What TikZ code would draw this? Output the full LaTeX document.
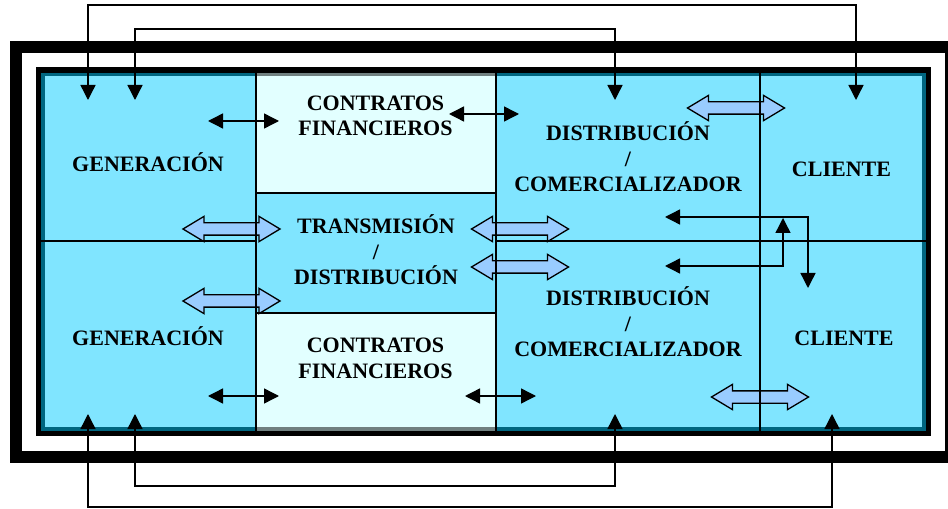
\documentclass[tikz,border=0pt]{standalone}
\usepackage{fontspec}
\setmainfont{Liberation Serif}
\usetikzlibrary{arrows.meta,shapes.arrows}
\definecolor{cellblue}{RGB}{128,229,255}
\definecolor{cellpale}{RGB}{226,255,255}
\definecolor{rimteal}{RGB}{0,102,128}
\definecolor{rimgrey}{RGB}{112,128,128}
\definecolor{fatblue}{RGB}{153,204,255}

\begin{document}
\begin{tikzpicture}[x=1bp, y=-1bp,
	label/.style={align=center, anchor=base, inner sep=0,
		font=\fontsize{22bp}{25.5bp}\selectfont\bfseries},
	fat/.style={double arrow, draw=black, line width=1.3bp, fill=fatblue,
		inner sep=0, text height=11bp, text depth=0pt,
		minimum width=24bp, minimum height=97bp,
		double arrow head extend=6.5bp, double arrow tip angle=62},
	link/.style={line width=1.4bp,
		{Triangle[length=15bp,width=15bp]}-{Triangle[length=15bp,width=15bp]}},
	divider/.style={line width=1.6bp}]
	\useasboundingbox (0,0) rectangle (948,509);
	% cells
	\fill[cellblue] (41,72) rectangle (926,431);
	\fill[cellpale] (256,72) rectangle (496,193);
	\fill[cellpale] (256,313) rectangle (496,431);
	\draw[rimteal, line width=3.5bp] (43,74.5) rectangle (924,429);
	\draw[rimgrey, line width=3.5bp] (256,74.5) -- (496,74.5);
	\draw[rimgrey, line width=3.5bp] (256,429) -- (496,429);
	% wide arrows
	\node[fat] (ga1) at (231.5,229) {};
	\node[fat] (ga2) at (231.5,301) {};
	\node[fat] (ta1) at (520,229) {};
	\node[fat] (ta2) at (520,267) {};
	\node[fat] (ca1) at (736,108) {};
	\node[fat] (ca2) at (760,397) {};
	% dividers
	\draw[divider] (256,70) -- (256,433.5);
	\draw[divider] (496,70) -- (496,433.5);
	\draw[divider] (760,70) -- (760,433.5);
	\draw[divider] (41,241) -- (256,241);
	\draw[divider] (496,241) -- (926,241);
	\draw[divider] (256,193) -- (496,193);
	\draw[divider] (256,313) -- (496,313);
	% frames
	\draw[line width=12bp] (16,47.5) rectangle (951,457.3);
	\draw[line width=5.5bp] (38.5,70) rectangle (928.5,433.5);
	% labels (base = last line)
	\node[label] (gen1)  at (148,171.5) {GENERACIÓN};
	\node[label] (fin1)  at (375.5,136) {CONTRATOS\\FINANCIEROS};
	\node[label] (dist1) at (628,192) {DISTRIBUCIÓN\\/\\COMERCIALIZADOR};
	\node[label] (cli1)  at (841.5,177) {CLIENTE};
	\node[label] (trans) at (376,285) {TRANSMISIÓN\\/\\DISTRIBUCIÓN};
	\node[label] (gen2)  at (148,345.5) {GENERACIÓN};
	\node[label] (fin2)  at (375.5,378.3) {CONTRATOS\\FINANCIEROS};
	\node[label] (dist2) at (628,356.7) {DISTRIBUCIÓN\\/\\COMERCIALIZADOR};
	\node[label] (cli2)  at (844,345.5) {CLIENTE};
	% arrow ends
	\coordinate (gt1) at (88,100);
	\coordinate (gt2) at (135,100);
	\coordinate (dt1) at (615,100);
	\coordinate (ct1) at (856,100);
	\coordinate (gb1) at (88,414);
	\coordinate (gb2) at (135,414);
	\coordinate (db1) at (615,414);
	\coordinate (cb1) at (832,414);
	\coordinate (gf1) at (208,121);
	\coordinate (fg1) at (279,121);
	\coordinate (fd1) at (449,114);
	\coordinate (df1) at (519,114);
	\coordinate (gf2) at (208,396);
	\coordinate (fg2) at (279,396);
	\coordinate (fd2) at (465,396);
	\coordinate (df2) at (536,396);
	\coordinate (dc1) at (665,217);
	\coordinate (cd1) at (808,288);
	\coordinate (dc2) at (665,266);
	\coordinate (cd2) at (783,218);
	% links
	\draw[link] (gt1) -- (88,5) -| (ct1);
	\draw[link] (gt2) -- (135,29) -| (dt1);
	\draw[link] (gb1) -- (88,507) -| (cb1);
	\draw[link] (gb2) -- (135,486) -| (db1);
	\draw[link] (gf1) -- (fg1);
	\draw[link] (fd1) -- (df1);
	\draw[link] (gf2) -- (fg2);
	\draw[link] (fd2) -- (df2);
	\draw[link] (dc1) -| (cd1);
	\draw[link] (dc2) -| (cd2);
\end{tikzpicture}
\end{document}
